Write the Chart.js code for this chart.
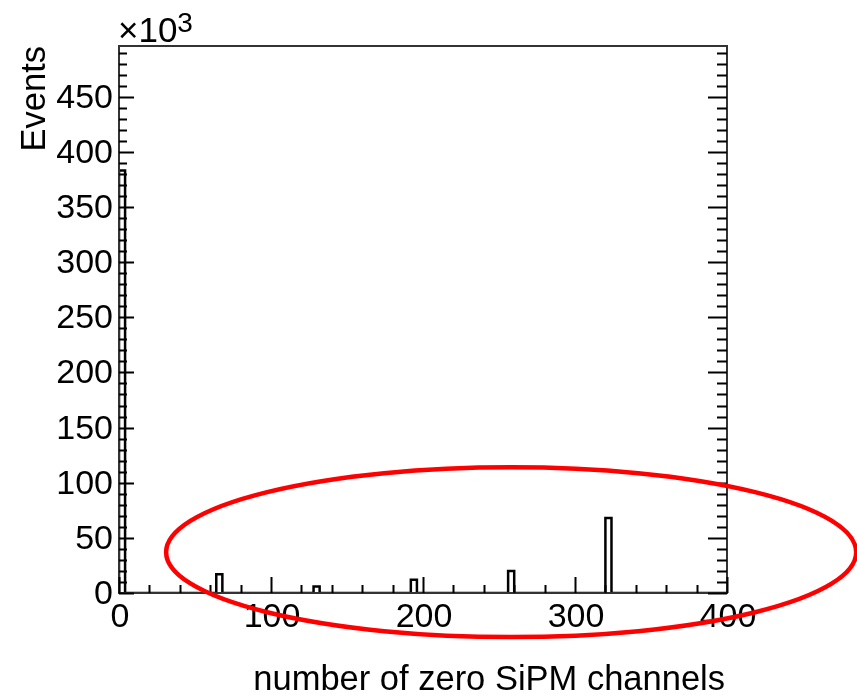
<!DOCTYPE html>
<html lang="en">
<head>
<meta charset="UTF-8">
<title>number of zero SiPM channels</title>
<script src="https://cdn.jsdelivr.net/npm/chart.js"></script>
<style>
  html, body { margin: 0; padding: 0; background: #fff; }
  #wrap { width: 857px; height: 696px; }
</style>
</head>
<body>
<div id="wrap"><canvas id="histo"></canvas></div>
<script>
// histogram contents (bin width 4)
const binStart = [0, 64, 128, 192, 256, 320];
const binEnd   = [4, 68, 132, 196, 260, 324];
const events   = [383000, 17000, 6000, 12000, 20000, 68000];

// axes
const xTicks = [0, 100, 200, 300, 400];
const yTicks = [0, 50000, 100000, 150000, 200000, 250000, 300000, 350000, 400000, 450000];
const xRange = [0, 400];
const yRange = [0, 496000];

// highlighted region (data coords)
const ring = { x: 258, y: 37000, rx: 227, ry: 77000 };

const FONT = '"Liberation Sans", Arial, Helvetica, sans-serif';

// step outline like ROOT draws it
const outline = [{ x: xRange[0], y: 0 }];
binStart.forEach((lo, i) => {
    outline.push({ x: lo, y: 0 }, { x: lo, y: events[i] },
                 { x: binEnd[i], y: events[i] }, { x: binEnd[i], y: 0 });
});
outline.push({ x: xRange[1], y: 0 });

const rootFrame = {
    id: 'rootFrame',
    afterDraw(chart) {
        const ctx = chart.ctx;
        const a = chart.chartArea;
        const xs = chart.scales.x, ys = chart.scales.y;
        ctx.save();

        // frame
        ctx.strokeStyle = '#333';
        ctx.lineWidth = 2;
        ctx.strokeRect(a.left, a.top, a.right - a.left, a.bottom - a.top);

        // ticks, drawn inside the frame
        ctx.strokeStyle = '#000';
        ctx.lineWidth = 2;
        ctx.beginPath();
        for (let v = 0; v <= yRange[1]; v += 10000) {
            const y = Math.round(ys.getPixelForValue(v)) + 0.5;
            const major = v % 50000 === 0;
            ctx.moveTo(a.left, y); ctx.lineTo(a.left + (major ? 15 : 8), y);
            ctx.moveTo(a.right, y); ctx.lineTo(a.right - (major ? 19 : 10), y);
        }
        for (let v = xRange[0]; v <= xRange[1]; v += 20) {
            const x = Math.round(xs.getPixelForValue(v)) + 0.5;
            const major = v % 100 === 0;
            ctx.moveTo(x, a.bottom); ctx.lineTo(x, a.bottom - (major ? 16 : 8));
        }
        ctx.stroke();

        // tick labels
        ctx.fillStyle = '#000';
        ctx.font = '34px ' + FONT;
        ctx.textAlign = 'right';
        ctx.textBaseline = 'alphabetic';
        yTicks.forEach(v => {
            ctx.fillText(String(v / 1000), a.left - 6, ys.getPixelForValue(v) + 11);
        });
        ctx.textAlign = 'center';
        xTicks.forEach(v => {
            ctx.fillText(String(v), xs.getPixelForValue(v) + 1, a.bottom + 34);
        });

        // axis titles
        ctx.font = '34.5px ' + FONT;
        ctx.textAlign = 'right';
        ctx.fillText('number of zero SiPM channels', a.right - 2, 690);
        ctx.save();
        ctx.translate(45, a.top);
        ctx.rotate(-Math.PI / 2);
        ctx.fillText('Events', 0, 0);
        ctx.restore();

        // exponent
        ctx.font = '35px ' + FONT;
        ctx.textAlign = 'left';
        const base = '\u00d710';
        ctx.fillText(base, a.left - 1, 42);
        const w = ctx.measureText(base).width;
        ctx.font = '28px ' + FONT;
        ctx.fillText('3', a.left - 1 + w, 32);

        // red ellipse
        const cx = xs.getPixelForValue(ring.x), cy = ys.getPixelForValue(ring.y);
        const rx = xs.getPixelForValue(ring.x + ring.rx) - cx;
        const ry = cy - ys.getPixelForValue(ring.y + ring.ry);
        ctx.strokeStyle = '#ff0000';
        ctx.lineWidth = 4.5;
        ctx.beginPath();
        ctx.ellipse(cx, cy, rx, ry, 0, 0, Math.PI * 2);
        ctx.stroke();

        ctx.restore();
    }
};

new Chart(document.getElementById('histo'), {
    type: 'scatter',
    data: {
        datasets: [{
            data: outline,
            showLine: true,
            borderColor: '#000',
            borderWidth: 2.5,
            pointRadius: 0,
            tension: 0,
            fill: false
        }]
    },
    options: {
        responsive: true,
        maintainAspectRatio: false,
        animation: false,
        layout: { padding: { left: 119, right: 130, top: 46, bottom: 103 } },
        plugins: { legend: { display: false }, tooltip: { enabled: false } },
        scales: {
            x: { type: 'linear', min: xRange[0], max: xRange[1], display: false },
            y: { type: 'linear', min: yRange[0], max: yRange[1], display: false }
        }
    },
    plugins: [rootFrame]
});
</script>
</body>
</html>
